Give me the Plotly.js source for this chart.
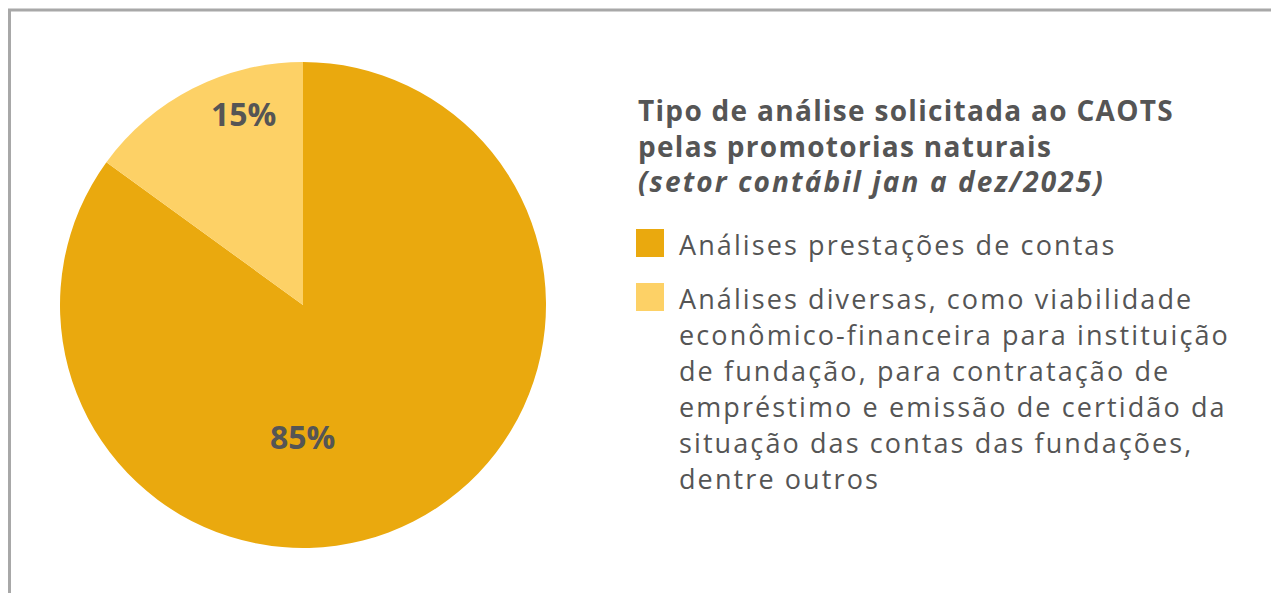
<!DOCTYPE html>
<html>
<head>
<meta charset="utf-8">
<script src="https://cdn.plot.ly/plotly-3.0.1.min.js"></script>
<style>
html,body{margin:0;padding:0;background:#fff;}
#chart{width:1271px;height:593px;}
</style>
</head>
<body>
<div id="chart"></div>
<script>
// ---- data ----
const categories = [
  "Análises prestações de contas",
  "Análises diversas, como viabilidade<br>econômico-financeira para instituição<br>de fundação, para contratação de<br>empréstimo e emissão de certidão da<br>situação das contas das fundações,<br>dentre outros"
];
const values = [85, 15];
const colors = ["#EAA90E", "#FDD166"];
const titleLines = [
  "<b>Tipo de análise solicitada ao CAOTS</b>",
  "<b>pelas promotorias naturais</b>",
  "<b><i>(setor contábil jan a dez/2025)</i></b>"
];

// ---- layout helpers (pixel -> paper) ----
const W = 1271, H = 593;
const px = x => x / W;
const py = y => 1 - y / H;
const textColor = "#555555";
const fontFam = "'Open Sans', 'DejaVu Sans', sans-serif";
const spaced = (t, ls) => '<span style="letter-spacing:' + ls + 'px">' + t + '</span>';
const titleSpacing = [1.3, 1.3, 2.1];

const total = values.reduce((a, b) => a + b, 0);
const pctLabelPos = [[302, 437], [243, 113]];

const annotations = [];
titleLines.forEach((t, i) => {
  annotations.push({
    xref: "paper", yref: "paper", x: px(636), y: py(110 + i * 35.5),
    xanchor: "left", yanchor: "middle", showarrow: false, align: "left",
    text: spaced(t, titleSpacing[i]), font: {family: fontFam, size: 28, color: textColor}
  });
});
values.forEach((v, i) => {
  annotations.push({
    xref: "paper", yref: "paper", x: px(pctLabelPos[i][0]), y: py(pctLabelPos[i][1]),
    xanchor: "center", yanchor: "middle", showarrow: false,
    text: "<b>" + Math.round(v / total * 100) + "%</b>",
    font: {family: fontFam, size: 32, color: textColor}
  });
});
const shapes = [
  {type: "line", xref: "paper", yref: "paper", x0: px(9.5), x1: px(9.5), y0: 0, y1: py(10), line: {color: "#a8a8a8", width: 3}},
  {type: "line", xref: "paper", yref: "paper", x0: px(8), x1: 1, y0: py(10), y1: py(10), line: {color: "#a8a8a8", width: 3}}
];
const legendStart = [244, 298];
const lineGap = 36;
categories.forEach((c, i) => {
  const y0 = legendStart[i];
  shapes.push({
    type: "rect", xref: "paper", yref: "paper",
    x0: px(636), x1: px(664), y0: py(y0 - 15), y1: py(y0 + 13),
    fillcolor: colors[i], line: {width: 0}
  });
  c.split("<br>").forEach((ln, j) => {
    annotations.push({
      xref: "paper", yref: "paper", x: px(677), y: py(y0 + j * lineGap),
      xanchor: "left", yanchor: "middle", showarrow: false, align: "left",
      text: spaced(ln, 2.1), font: {family: fontFam, size: 27, color: textColor}
    });
  });
});

const data = [{
  type: "pie",
  values: values,
  labels: categories,
  marker: {colors: colors, line: {width: 0}},
  sort: false,
  direction: "clockwise",
  rotation: 0,
  textinfo: "none",
  hoverinfo: "label+percent",
  domain: {x: [px(60), px(546)], y: [py(548), py(62)]},
  showlegend: false
}];

const layout = {
  width: W, height: H,
  margin: {l: 0, r: 0, t: 0, b: 0},
  paper_bgcolor: "#ffffff",
  showlegend: false,
  annotations: annotations,
  shapes: shapes,
  font: {family: fontFam}
};

Plotly.newPlot("chart", data, layout, {displayModeBar: false, staticPlot: true});
</script>
</body>
</html>
